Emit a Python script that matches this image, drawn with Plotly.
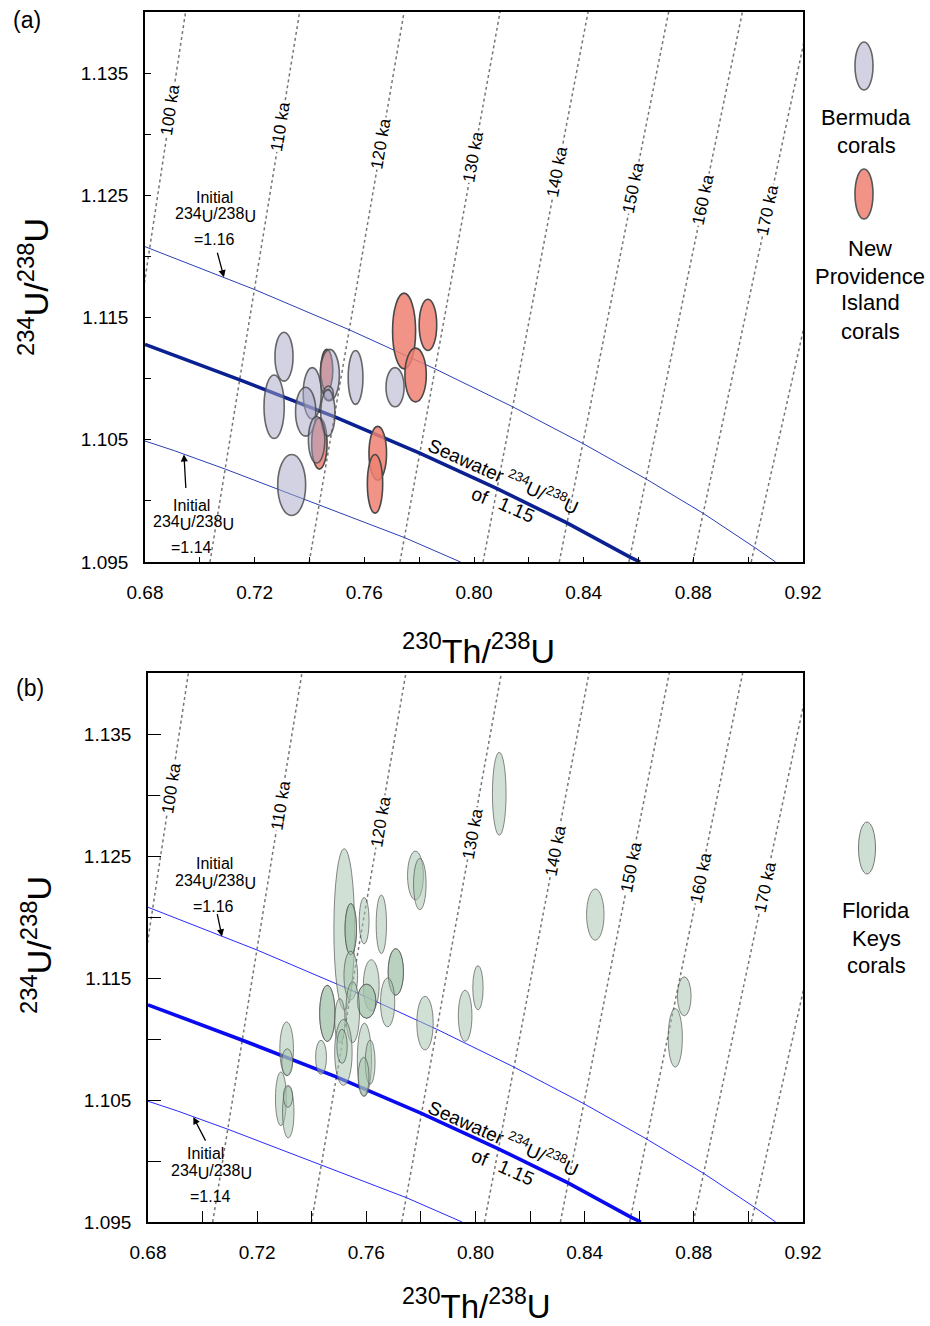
import math
import plotly.graph_objects as go

W, H = 930, 1326

# ---------------- data ----------------
ages = ["100 ka", "110 ka", "120 ka", "130 ka", "140 ka", "150 ka", "160 ka", "170 ka", ""]
iso_x_low = [0.6643, 0.7037, 0.7399, 0.7730, 0.8033, 0.8311, 0.8565, 0.8798, 0.9011]   # at y = 1.095
iso_x_high = [0.6948, 0.7364, 0.7745, 0.8095, 0.8416, 0.8710, 0.8979, 0.9227, 0.9462]  # at y = 1.140
iso_y = [1.095, 1.140]

sw115_x = [0.680, 0.7146, 0.7490, 0.7802, 0.8084, 0.8339, 0.8569, 0.8606]
sw115_y = [1.1128, 1.1099, 1.1069, 1.1039, 1.1010, 1.0982, 1.0954, 1.0950]
sw116_x = [0.680, 0.7199, 0.7545, 0.7858, 0.8141, 0.8397, 0.8627, 0.8835, 0.9023, 0.9100]
sw116_y = [1.1208, 1.1173, 1.1140, 1.1108, 1.1077, 1.1047, 1.1018, 1.0990, 1.0962, 1.0950]
sw114_x = [0.680, 0.6908, 0.7093, 0.7435, 0.7746, 0.7951]
sw114_y = [1.1049, 1.1041, 1.1026, 1.0997, 1.0970, 1.0950]

# Bermuda corals (panel a): centre and 2-sigma half widths
bermuda_x = [0.7307, 0.7271, 0.7410, 0.7386, 0.7474, 0.7469, 0.7467, 0.7568, 0.7712, 0.7335, 0.7426]
bermuda_y = [1.1118, 1.1077, 1.1088, 1.1073, 1.1103, 1.1088, 1.1072, 1.1101, 1.1093, 1.1013, 1.1050]
bermuda_ex = [0.0033, 0.0037, 0.0033, 0.0037, 0.0035, 0.0018, 0.0026, 0.0027, 0.0033, 0.0051, 0.0030]
bermuda_ey = [0.0020, 0.0026, 0.0021, 0.0020, 0.0021, 0.0006, 0.0019, 0.0022, 0.0016, 0.0025, 0.0019]

# New Providence Island corals (panel a)
np_x = [0.7463, 0.7436, 0.7745, 0.7832, 0.7787, 0.7649, 0.7639]
np_y = [1.1107, 1.1047, 1.1139, 1.1144, 1.1103, 1.1039, 1.1014]
np_ex = [0.0022, 0.0028, 0.0042, 0.0032, 0.0039, 0.0032, 0.0028]
np_ey = [0.0017, 0.0021, 0.0031, 0.0021, 0.0022, 0.0022, 0.0024]

# Florida Keys corals (panel b)
fk_x = [0.7519, 0.7543, 0.7543, 0.7592, 0.7655, 0.7780, 0.7796, 0.7708, 0.7708, 0.7678,
        0.7543, 0.7618, 0.7601, 0.7601, 0.7550, 0.7457, 0.7457, 0.7503, 0.7434, 0.7516,
        0.7511, 0.7593, 0.7614, 0.7590, 0.7815, 0.7962, 0.8009, 0.7308, 0.7287, 0.7314,
        0.7313, 0.7310, 0.8087, 0.8439, 0.8765, 0.8732]
fk_y = [1.1190, 1.1190, 1.1190, 1.1197, 1.1194, 1.1234, 1.1227, 1.1155, 1.1155, 1.1130,
        1.1152, 1.1144, 1.1131, 1.1131, 1.1122, 1.1121, 1.1121, 1.1115, 1.1085, 1.1089,
        1.1094, 1.1083, 1.1081, 1.1069, 1.1113, 1.1119, 1.1142, 1.1092, 1.1051, 1.1040,
        1.1053, 1.1081, 1.1301, 1.1202, 1.1135, 1.1101]
fk_ex = [0.0038, 0.0021, 0.0021, 0.0018, 0.0019, 0.0029, 0.0023, 0.0028, 0.0028, 0.0026,
         0.0025, 0.0029, 0.0034, 0.0034, 0.0025, 0.0028, 0.0028, 0.0019, 0.0020, 0.0032,
         0.0019, 0.0026, 0.0018, 0.0020, 0.0030, 0.0025, 0.0019, 0.0025, 0.0020, 0.0021,
         0.0017, 0.0020, 0.0025, 0.0032, 0.0025, 0.0026]
fk_ey = [0.0066, 0.0021, 0.0021, 0.0019, 0.0024, 0.0020, 0.0021, 0.0019, 0.0019, 0.0020,
         0.0020, 0.0021, 0.0014, 0.0014, 0.0025, 0.0023, 0.0023, 0.0018, 0.0014, 0.0027,
         0.0014, 0.0030, 0.0018, 0.0016, 0.0022, 0.0021, 0.0018, 0.0022, 0.0022, 0.0021,
         0.0009, 0.0011, 0.0034, 0.0021, 0.0016, 0.0024]

x_ticks = [0.68, 0.72, 0.76, 0.80, 0.84, 0.88, 0.92]
x_minor = [0.70, 0.74, 0.78, 0.82, 0.86, 0.90]
y_ticks = [1.095, 1.105, 1.115, 1.125, 1.135]
y_minor = [1.100, 1.110, 1.120, 1.130]

# --------------- layout helpers ---------------
FONT = "Liberation Sans, Arial, Helvetica, sans-serif"

def P(px, py):
    return px / W, 1 - py / H

panels = {
    1: dict(xd=(145, 803), yd=(12, 562), xr="x", yr="y",
            thick="#0c2191", thin="#2b3fb5", ticklen=5, yticklen=6),
    2: dict(xd=(148, 803), yd=(673, 1222), xr="x2", yr="y2",
            thick="#0a0af0", thin="#2a2aff", ticklen=11, yticklen=13),
}

fig = go.Figure()
shapes = []
annotations = []

for k, pn in panels.items():
    xa, ya = pn["xr"], pn["yr"]
    # isochrons
    for i in range(len(ages)):
        fig.add_trace(go.Scatter(x=[iso_x_low[i], iso_x_high[i]], y=iso_y, mode="lines",
                                 line=dict(color="#767676", width=1.5, dash="3px,3px"),
                                 xaxis=xa, yaxis=ya, showlegend=False, hoverinfo="skip"))
    # seawater evolution curves
    for xs, ys, col, wd in [(sw116_x, sw116_y, pn["thin"], 1.0),
                            (sw114_x, sw114_y, pn["thin"], 1.0),
                            (sw115_x, sw115_y, pn["thick"], 3.6)]:
        fig.add_trace(go.Scatter(x=xs, y=ys, mode="lines", line=dict(color=col, width=wd),
                                 xaxis=xa, yaxis=ya, showlegend=False, hoverinfo="skip"))

    # age labels along isochrons
    xpx = (pn["xd"][1] - pn["xd"][0]) / 0.24
    ypx = (pn["yd"][1] - pn["yd"][0]) / 0.045
    lab_py = [110, 127, 143, 157, 172, 188, 200, 210] if k == 1 else [788, 805, 821, 833, 850, 867, 878, 887]
    for i, lab in enumerate(ages):
        if not lab:
            continue
        yv = 1.140 - (lab_py[i] - pn["yd"][0]) / ypx
        f = (yv - iso_y[0]) / (iso_y[1] - iso_y[0])
        xv = iso_x_low[i] + f * (iso_x_high[i] - iso_x_low[i])
        ang = -math.degrees(math.atan2((iso_y[1] - iso_y[0]) * ypx, (iso_x_high[i] - iso_x_low[i]) * xpx))
        annotations.append(dict(x=xv, y=yv, xref=xa, yref=ya, text=lab, showarrow=False,
                                textangle=ang, bgcolor="white", borderpad=0,
                                font=dict(family=FONT, size=17, color="black")))

# ellipses panel (a): New Providence first, Bermuda drawn over with transparency
for i in range(len(np_x)):
    shapes.append(dict(type="circle", xref="x", yref="y",
                       x0=np_x[i] - np_ex[i], x1=np_x[i] + np_ex[i],
                       y0=np_y[i] - np_ey[i], y1=np_y[i] + np_ey[i],
                       fillcolor="rgba(238,128,113,0.85)", line=dict(color="#484848", width=1.6)))
for i in range(len(bermuda_x)):
    shapes.append(dict(type="circle", xref="x", yref="y",
                       x0=bermuda_x[i] - bermuda_ex[i], x1=bermuda_x[i] + bermuda_ex[i],
                       y0=bermuda_y[i] - bermuda_ey[i], y1=bermuda_y[i] + bermuda_ey[i],
                       fillcolor="rgba(165,165,198,0.5)", line=dict(color="rgba(70,70,70,0.8)", width=1.6)))
# ellipses panel (b)
for i in range(len(fk_x)):
    shapes.append(dict(type="circle", xref="x2", yref="y2",
                       x0=fk_x[i] - fk_ex[i], x1=fk_x[i] + fk_ex[i],
                       y0=fk_y[i] - fk_ey[i], y1=fk_y[i] + fk_ey[i],
                       fillcolor="rgba(164,195,173,0.52)", line=dict(color="rgba(80,80,80,0.75)", width=0.9)))

# legend symbols
def legend_ell(cx, cy, rx, ry, fill, line, lw):
    x0, y0 = P(cx - rx, cy + ry)
    x1, y1 = P(cx + rx, cy - ry)
    shapes.append(dict(type="circle", xref="paper", yref="paper", x0=x0, x1=x1, y0=y0, y1=y1,
                       fillcolor=fill, line=dict(color=line, width=lw)))

legend_ell(864, 66, 9, 24, "rgb(210,210,226)", "#666666", 1.6)
legend_ell(864, 194, 9, 25, "rgb(241,148,135)", "#555555", 1.6)
legend_ell(867, 848, 8.5, 26, "rgb(205,222,210)", "#777777", 1.0)

def text(px, py, s, size=15, angle=0, xanchor="center"):
    x, y = P(px, py)
    annotations.append(dict(x=x, y=y, xref="paper", yref="paper", text=s, showarrow=False,
                            textangle=angle, xanchor=xanchor, yanchor="middle",
                            font=dict(family=FONT, size=size, color="black")))

for s, y in [("Bermuda", 117), ("corals", 145)]:
    text(866, y, s, 22)
for s, y in [("New", 248), ("Providence", 276), ("Island", 303), ("corals", 331)]:
    text(870, y, s, 22)
for s, y in [("Florida", 910), ("Keys", 938), ("corals", 965)]:
    text(876, y, s, 22)

# panel labels
text(27, 20, "(a)", 23)
text(30, 688, "(b)", 23)

# axis titles
ytitle = "<sup>234</sup>U/<sup>238</sup>U"
xtitle = "<sup>230</sup>Th/<sup>238</sup>U"
text(33, 287, ytitle, 34, angle=-90)
text(36, 945, ytitle, 34, angle=-90)
text(478, 648, xtitle, 34)
text(476, 1304, xtitle, 33)

iso_lab = ("234<sub><span style='font-size:16px'>U</span></sub>/238"
           "<sub><span style='font-size:16px'>U</span></sub>")
FS = 16
# initial ratio labels panel (a)
text(214, 197, "Initial", FS); text(215, 215, iso_lab, FS); text(214, 239, "=1.16", FS)
text(191, 505, "Initial", FS); text(193, 523, iso_lab, FS); text(191, 547, "=1.14", FS)
# panel (b)
text(214, 863, "Initial", FS); text(215, 882, iso_lab, FS); text(213, 906, "=1.16", FS)
text(205, 1153, "Initial", FS); text(211, 1172, iso_lab, FS); text(210, 1196, "=1.14", FS)

# arrows
for xv, yv, ax, ay, xr, yr in [(0.7088, 1.1183, -7, -26, "x", "y"),
                               (0.6942, 1.1038, 2, 35, "x", "y"),
                               (0.7071, 1.1184, -5, -24, "x2", "y2"),
                               (0.6966, 1.1036, 13, 25, "x2", "y2")]:
    annotations.append(dict(x=xv, y=yv, xref=xr, yref=yr, ax=ax, ay=ay, text="",
                            showarrow=True, arrowhead=2, arrowsize=1.1, arrowwidth=1.3,
                            arrowcolor="black"))

# seawater labels
sw_lab = "<sup>234</sup>U/<sup>238</sup>U"
for dy in [0, 662]:
    text(466, 460 + dy, "Seawater", 19, angle=24)
    text(542, 492 + dy, sw_lab, 19, angle=24)
    text(480, 495 + dy, "of", 19, angle=22)
    text(516, 510 + dy, "1.15", 19, angle=24)

def xaxis(pn, anchor):
    return dict(domain=[pn["xd"][0] / W, pn["xd"][1] / W], range=[0.68, 0.92], anchor=anchor,
                showline=True, linecolor="black", linewidth=1.6, mirror=True, automargin=False,
                ticks="inside", ticklen=pn["ticklen"], tickwidth=1.3, tickcolor="black",
                tickvals=x_ticks, ticktext=["%.2f" % v for v in x_ticks],
                minor=dict(tickvals=x_minor, ticks="inside", ticklen=pn["ticklen"],
                           tickwidth=1.3, tickcolor="black"),
                showgrid=False, zeroline=False, ticklabelstandoff=12,
                tickfont=dict(family=FONT, size=19, color="black"))

def yaxis(pn, anchor):
    return dict(domain=[1 - pn["yd"][1] / H, 1 - pn["yd"][0] / H], range=[1.095, 1.140], anchor=anchor,
                showline=True, linecolor="black", linewidth=1.6, mirror=True, automargin=False,
                ticks="inside", ticklen=pn["yticklen"], tickwidth=1.3, tickcolor="black",
                tickvals=y_ticks, ticktext=["%.3f" % v for v in y_ticks],
                minor=dict(tickvals=y_minor, ticks="inside", ticklen=pn["yticklen"],
                           tickwidth=1.3, tickcolor="black"),
                showgrid=False, zeroline=False, ticklabelstandoff=11,
                tickfont=dict(family=FONT, size=19, color="black"))

fig.update_layout(
    width=W, height=H, margin=dict(l=0, r=0, t=0, b=0, autoexpand=False),
    paper_bgcolor="white", plot_bgcolor="white", showlegend=False,
    xaxis=xaxis(panels[1], "y"), yaxis=yaxis(panels[1], "x"),
    xaxis2=xaxis(panels[2], "y2"), yaxis2=yaxis(panels[2], "x2"),
    shapes=shapes, annotations=annotations,
)

fig.write_html("out.html", config={"displayModeBar": False},
               post_script="document.body.style.margin='0px';document.body.style.overflow='hidden';")
